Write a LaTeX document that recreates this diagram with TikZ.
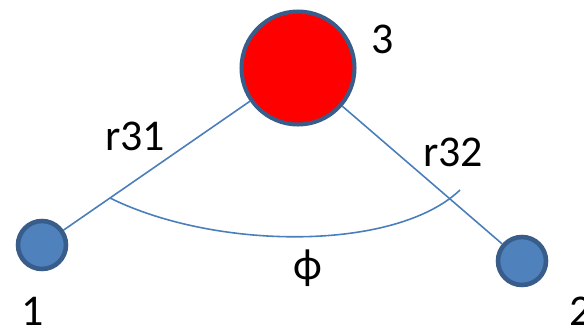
\documentclass[tikz,border=0pt]{standalone}
\usepackage{fontspec}
\setmainfont{Carlito}
\usepackage{tikz}
\usetikzlibrary{calc}
\definecolor{atomblue}{HTML}{4F81BD}
\definecolor{atomedge}{HTML}{385D8A}
\definecolor{bondblue}{HTML}{4A7EBB}
\tikzset{
    atom/.style={circle,fill=atomblue,draw=atomedge,line width=2.6pt,minimum size=0.96cm,inner sep=0pt},
    bigatom/.style={circle,fill=red,draw=atomedge,line width=2.3pt,minimum size=2.26cm,inner sep=0pt},
    bond/.style={draw=bondblue,line width=0.9pt},
    lab/.style={font=\fontsize{25}{30}\selectfont,inner sep=0pt}
}
\begin{document}
\begin{tikzpicture}[x=0.02cm,y=-0.02cm]
        \useasboundingbox (0,0) rectangle (584,328);%图片边界
        \node[bigatom] (n3) at (298,68) {};
        \node[atom] (n1) at (42,245) {};
        \node[atom] (n2) at (522,261) {};
        \draw[bond] (n1)--(n3);%键
        \draw[bond] (n3)--(n2);
        \coordinate (a1) at (110,198);%角的弧线
        \coordinate (a2) at (460,190);
        \draw[bond] (a1) .. controls (215,250) and (395,252) .. (a2);
        \node[lab] (l3) at (383,39) {3};
        \node[lab] (l1) at (33,311) {1};
        \node[lab] (l2) at (581,311) {2};
        \node[lab] (r31) at (135,136) {r31};
        \node[lab] (r32) at (453,152) {r32};
        \node[lab] (phi) at (308,268) {ϕ};
        \end{tikzpicture}
\end{document}
